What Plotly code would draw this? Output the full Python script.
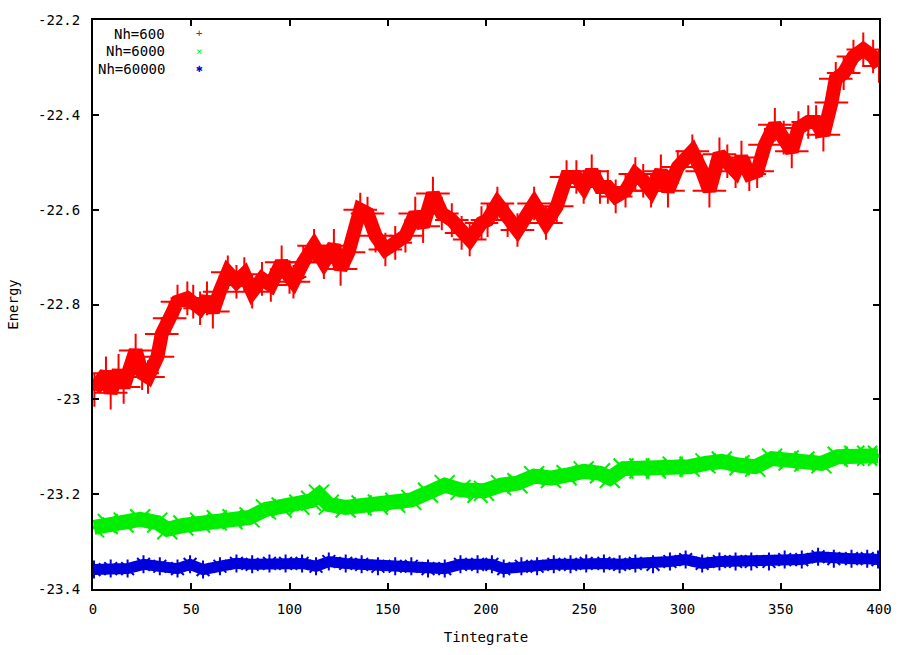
import plotly.graph_objects as go

# ---------------- data ----------------
red_x = [0.7, 6.6, 9, 13, 15.6, 21.7, 25, 28, 32.8, 35, 39, 43, 48, 51, 54.5, 58, 61, 64.5,
         68.6, 73, 77, 81, 86, 90.5, 96, 100, 102, 107, 112.5, 117.5, 122.6, 126, 130, 136,
         139.7, 143.8, 148.8, 153.8, 159, 164, 168, 173, 177.5, 182.6, 187.6, 191.7, 197.7,
         200.8, 205.8, 211, 216, 224.5, 230.5, 236, 241, 246, 249.7, 253.8, 258, 262, 266,
         271, 276, 280, 284, 289, 292.6, 297.6, 305, 310, 313.7, 318.8, 322.8, 327, 330, 334,
         338, 342, 347, 351.5, 355.6, 359, 364, 368, 371.7, 375.8, 378, 382, 387, 392, 397, 400]
red_y = [-22.98, -22.945, -22.986, -22.94, -22.974, -22.897, -22.945, -22.953, -22.91, -22.862,
         -22.829, -22.794, -22.787, -22.794, -22.808, -22.787, -22.815, -22.773, -22.732, -22.752,
         -22.736, -22.773, -22.746, -22.759, -22.711, -22.742, -22.752, -22.711, -22.676, -22.711,
         -22.676, -22.725, -22.69, -22.60, -22.608, -22.655, -22.684, -22.67, -22.655, -22.608,
         -22.635, -22.566, -22.608, -22.622, -22.649, -22.663, -22.628, -22.622, -22.587, -22.622,
         -22.643, -22.587, -22.628, -22.593, -22.531, -22.531, -22.552, -22.519, -22.552, -22.552,
         -22.572, -22.56, -22.525, -22.539, -22.56, -22.519, -22.56, -22.51, -22.477, -22.519,
         -22.56, -22.483, -22.498, -22.519, -22.49, -22.525, -22.519, -22.463, -22.421, -22.448,
         -22.477, -22.428, -22.415, -22.415, -22.442, -22.374, -22.324, -22.312, -22.277, -22.262,
         -22.277, -22.297]

green_x = [0.5, 7.5, 15.6, 24, 32.7, 37.8, 46, 54.5, 63, 71, 79.7, 88, 96, 105, 111, 115, 120,
           128.6, 136.7, 145, 153.8, 162, 170.5, 179, 187, 195.7, 199, 207.7, 216, 224.5, 233,
           241, 249.7, 258, 263, 270, 278, 286.5, 295, 303.6, 311.7, 320, 329, 337, 345.6, 354,
           362, 370.7, 379, 387.4, 394, 399.5]
green_y = [-23.27, -23.263, -23.26, -23.253, -23.26, -23.274, -23.266, -23.26, -23.255, -23.253,
           -23.249, -23.232, -23.228, -23.222, -23.214, -23.201, -23.222, -23.228, -23.224, -23.222,
           -23.218, -23.212, -23.197, -23.181, -23.191, -23.197, -23.193, -23.181, -23.177, -23.162,
           -23.166, -23.16, -23.152, -23.156, -23.166, -23.146, -23.146, -23.146, -23.142, -23.142,
           -23.135, -23.131, -23.139, -23.142, -23.125, -23.129, -23.131, -23.135, -23.121, -23.119,
           -23.119, -23.119]

blue_x = [0.5, 9, 17.6, 25.7, 34, 43, 49.4, 56, 64.6, 73, 81, 89.8, 98, 106.4, 113.5, 120,
          128.6, 136.7, 145, 153.8, 162, 170.5, 179, 187, 195.7, 203, 209, 218, 226, 234.5, 243,
          251, 260, 268, 276, 285, 293.6, 301.6, 310, 318.8, 327, 335, 344, 352, 360.7, 369, 377,
          386, 394, 399.5]
blue_y = [-23.359, -23.357, -23.357, -23.348, -23.352, -23.357, -23.348, -23.359, -23.352, -23.346,
          -23.348, -23.346, -23.346, -23.346, -23.352, -23.342, -23.346, -23.348, -23.352, -23.352,
          -23.352, -23.357, -23.357, -23.348, -23.348, -23.348, -23.357, -23.352, -23.352, -23.348,
          -23.348, -23.346, -23.346, -23.348, -23.346, -23.348, -23.342, -23.338, -23.346, -23.342,
          -23.342, -23.342, -23.342, -23.338, -23.338, -23.332, -23.336, -23.336, -23.336, -23.338]

series_names = ["Nh=600", "Nh=6000", "Nh=60000"]
x_ticks = [0, 50, 100, 150, 200, 250, 300, 350, 400]
y_ticks = [-22.2, -22.4, -22.6, -22.8, -23.0, -23.2, -23.4]
y_tick_labels = ["-22.2", "-22.4", "-22.6", "-22.8", "-23", "-23.2", "-23.4"]

# ---------------- figure ----------------
FONT = "DejaVu Sans Mono, Liberation Mono, monospace"
colors = ["#ff0000", "#00ee00", "#0000dd"]
line_w = [14, 15, 11]
symbols = ["cross-thin", "x-thin", "asterisk"]
msizes = [24, 20, 15]
legend_glyphs = ["+", "×", "✱"]

fig = go.Figure()
for xs, ys, name, c, lw, sym, ms in zip([red_x, green_x, blue_x], [red_y, green_y, blue_y],
                                        series_names, colors, line_w, symbols, msizes):
    fig.add_trace(go.Scatter(
        x=xs, y=ys, name=name, mode="lines+markers",
        line=dict(color=c, width=lw),
        marker=dict(symbol=sym, size=ms, color=c, line=dict(color=c, width=2)),
        showlegend=False,
    ))

axis_common = dict(
    showline=True, linecolor="black", linewidth=2, mirror="ticks",
    ticks="inside", ticklen=6, tickwidth=2, tickcolor="black",
    showgrid=False, zeroline=False,
    tickfont=dict(family=FONT, size=14, color="black"),
)

fig.update_layout(
    width=904, height=655,
    margin=dict(l=90, r=21, t=13, b=62),
    paper_bgcolor="white", plot_bgcolor="white",
    xaxis=dict(range=[0, 400], tickvals=x_ticks, ticklabelstandoff=6,
               title=dict(text="Tintegrate", font=dict(family=FONT, size=14, color="black"), standoff=16),
               **axis_common),
    yaxis=dict(range=[-23.4, -22.2], tickvals=y_ticks, ticktext=y_tick_labels, ticklabelstandoff=8,
               title=dict(text="Energy", font=dict(family=FONT, size=14, color="black"), standoff=16),
               **axis_common),
)

# gnuplot-style key: right-aligned label followed by the point glyph
legend_y = [0.976, 0.945, 0.914]
for name, glyph, c, yy in zip(series_names, legend_glyphs, colors, legend_y):
    fig.add_annotation(x=0.0946, y=yy, xref="paper", yref="paper", text=name, showarrow=False,
                       xanchor="right", yanchor="middle", font=dict(family=FONT, size=14, color="black"))
    fig.add_annotation(x=0.135, y=yy, xref="paper", yref="paper", text=glyph, showarrow=False,
                       xanchor="center", yanchor="middle", font=dict(family=FONT, size=11, color=c))

fig.write_html("out.html")
